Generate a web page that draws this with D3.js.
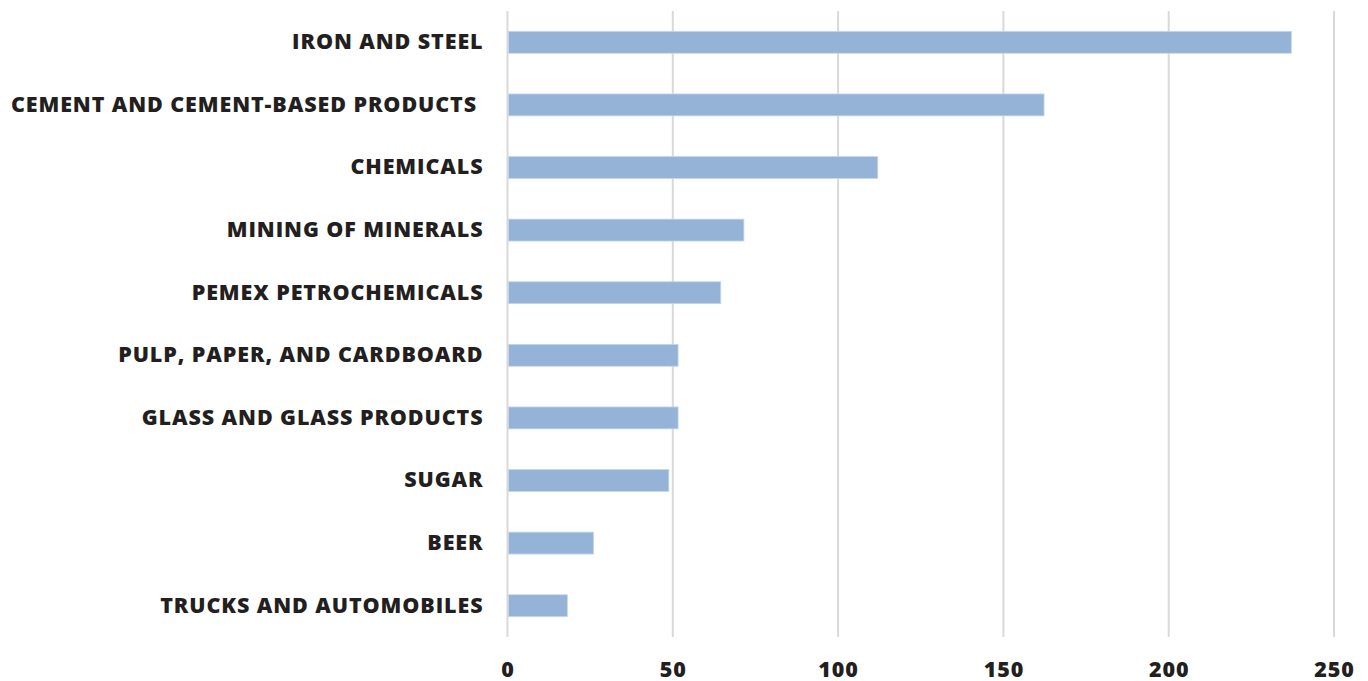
<!DOCTYPE html>
<html>
<head>
<meta charset="utf-8">
<script src="https://cdn.jsdelivr.net/npm/d3@7"></script>
<style>
  body { margin: 0; background: #fff; }
  svg text { font-family: "Open Sans", sans-serif; font-weight: 800; fill: #231f20; }
</style>
</head>
<body>
<svg id="chart" width="1368" height="681"></svg>
<script>
const categories = [
  "IRON AND STEEL",
  "CEMENT AND CEMENT-BASED PRODUCTS ",
  "CHEMICALS",
  "MINING OF MINERALS",
  "PEMEX PETROCHEMICALS",
  "PULP, PAPER, AND CARDBOARD",
  "GLASS AND GLASS PRODUCTS",
  "SUGAR",
  "BEER",
  "TRUCKS AND AUTOMOBILES"
];
const values = [237.1, 162.3, 112, 71.5, 64.5, 51.6, 51.6, 48.8, 26, 18.1];
const xTicks = [0, 50, 100, 150, 200, 250];

const width = 1368;
const height = 681;
const margin = { top: 11, right: 34, bottom: 44, left: 507.5 };
const innerWidth = width - margin.left - margin.right;
const innerHeight = height - margin.top - margin.bottom;

const svg = d3.select("#chart");
const g = svg.append("g").attr("transform", `translate(${margin.left}, ${margin.top})`);

const xScale = d3.scaleLinear().domain([0, 250]).range([0, innerWidth]);
const yScale = d3.scaleBand().domain(categories).range([0, innerHeight]).paddingInner(0.65).paddingOuter(0.325);

// gridlines
g.append("g")
  .selectAll("line")
  .data(xTicks)
  .join("line")
  .attr("x1", (d) => xScale(d))
  .attr("x2", (d) => xScale(d))
  .attr("y1", 0)
  .attr("y2", innerHeight)
  .attr("stroke", "#d9d9d9")
  .attr("stroke-width", 2);

// bars
g.append("g")
  .selectAll("rect")
  .data(values)
  .join("rect")
  .attr("x", xScale(0) + 1)
  .attr("y", (d, i) => yScale(categories[i]))
  .attr("width", (d) => xScale(d) - xScale(0) - 1)
  .attr("height", yScale.bandwidth())
  .attr("fill", "#95b3d7")
  .attr("stroke", "#c5d6eb")
  .attr("stroke-width", 0.8);

// y labels
const yAxis = d3.axisLeft(yScale).tickSize(0).tickPadding(24);
g.append("g")
  .call(yAxis)
  .call((sel) => sel.select(".domain").remove())
  .selectAll("text")
  .attr("font-size", 21.5)
  .attr("letter-spacing", 0.9)
  .style("white-space", "pre");

// x labels
const xAxis = d3.axisBottom(xScale).tickValues(xTicks).tickSize(0).tickPadding(25);
g.append("g")
  .attr("transform", `translate(0, ${innerHeight})`)
  .call(xAxis)
  .call((sel) => sel.select(".domain").remove())
  .selectAll("text")
  .attr("font-size", 21.5)
  .attr("letter-spacing", 0.9);

g.selectAll(".tick text").attr("fill", "#231f20");
</script>
</body>
</html>
